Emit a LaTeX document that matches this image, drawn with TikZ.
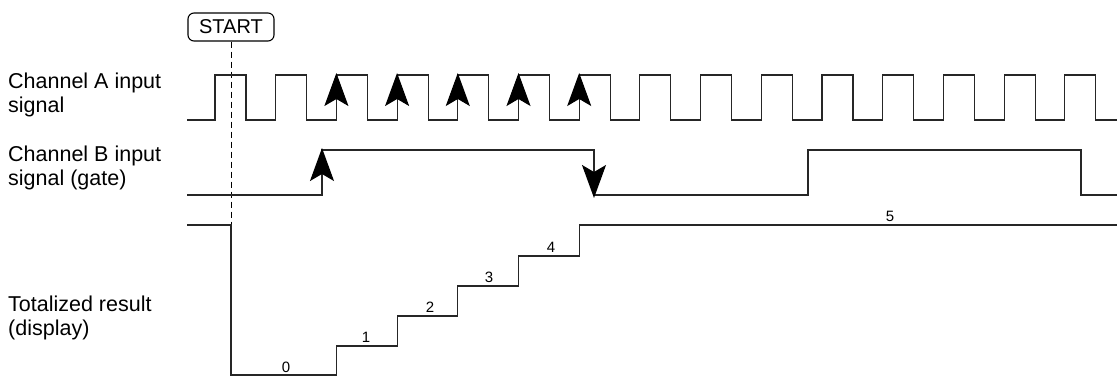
\documentclass[tikz,border=0pt]{standalone}
\usepackage{fontspec}
\setmainfont{Liberation Sans}
\usetikzlibrary{arrows.meta}
\begin{document}
\begin{tikzpicture}[x=1pt,y=-1pt,
  sig/.style={line width=1.1pt,black!85},
  edgearrow/.style={line width=1.1pt,black!85,-{Stealth[length=33pt,width=24pt,inset=7pt,black]}},
  lbl/.style={anchor=north west,align=left,inner sep=0pt,font=\fontsize{21.5}{23.5}\selectfont},
  num/.style={anchor=base,inner sep=0pt,font=\fontsize{15}{16}\selectfont},
  startbox/.style={draw,line width=1.1pt,rounded corners=6pt,minimum width=86pt,minimum height=28pt,inner sep=0pt,font=\fontsize{20}{21}\selectfont}]
\useasboundingbox (0,0) rectangle (1117,377);
% labels
\node[lbl] (la) at (8,73) {Channel A input\\signal};
\node[lbl] (lb) at (8,146) {Channel B input\\signal (gate)};
\node[lbl] (lt) at (8,296) {Totalized result\\(display)};
% START
\node[startbox] (start) at (231,27) {START};
\coordinate (dashend) at (231,224);
\draw[line width=0.9pt,dash pattern=on 6pt off 4pt] (start.south) -- (dashend);
% Channel A
\draw[sig] (187,120) foreach \k in {0,...,14} {
  -- ({215+60.7*\k},120) -- ({215+60.7*\k},75) -- ({246+60.7*\k},75) -- ({246+60.7*\k},120) } -- (1117,120);
\foreach \k in {2,...,6} \draw[edgearrow] ({215+60.7*\k},112) -- ({215+60.7*\k},73);
% Channel B
\draw[sig] (187,195) -- (322,195) -- (322,150) -- (594,150) -- (594,195) -- (808,195) -- (808,150) -- (1081,150) -- (1081,195) -- (1117,195);
\coordinate (brise) at (322,148);
\coordinate (bfall) at (594,198);
\draw[edgearrow] (322,188) -- (brise);
\draw[edgearrow] (594,158) -- (bfall);
% Totalized
\draw[sig] (187,225) -- (231,225) -- (231,375) -- (336.4,375) -- (336.4,346) -- (397.1,346) -- (397.1,316) -- (457.8,316) -- (457.8,286) -- (518.5,286) -- (518.5,256) -- (579.2,256) -- (579.2,225) -- (1117,225);
\node[num] (n0) at (286,372) {0};
\node[num] (n1) at (366,342) {1};
\node[num] (n2) at (430,312) {2};
\node[num] (n3) at (489,282) {3};
\node[num] (n4) at (551,252) {4};
\node[num] (n5) at (890,221) {5};
\end{tikzpicture}
\end{document}
